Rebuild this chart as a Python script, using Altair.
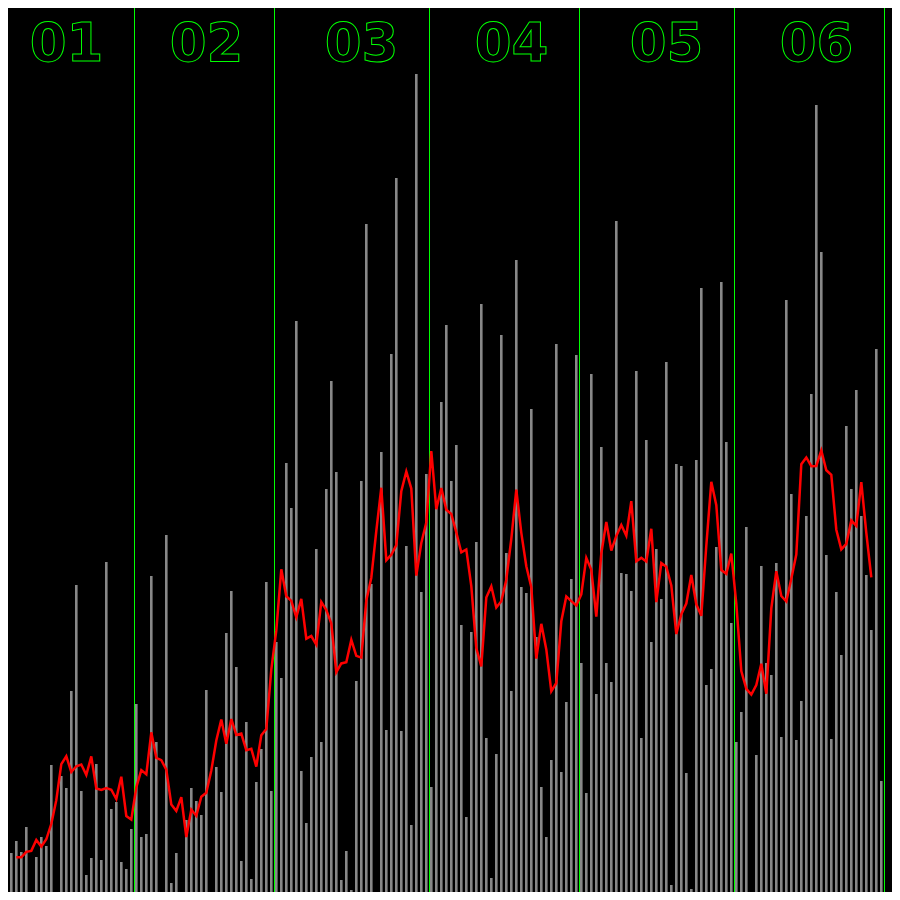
import altair as alt
import pandas as pd

# Daily values (first visible day: 5 Jan)
start = "2021-01-05"
jan = [44, 25, 47, 59, 48, 73, 4, 43, 63, 54, 135, 2, 124, 112, 209, 315, 109,
       25, 42, 136, 40, 338, 91, 98, 38, 31, 71]
feb = [196, 63, 66, 324, 158, 2, 365, 17, 47, 0, 80, 112, 99, 85, 210, 4, 133,
       108, 267, 309, 233, 39, 178, 21, 118, 151, 318, 109]
mar = [258, 222, 437, 392, 579, 129, 77, 143, 351, 158, 411, 519, 428, 20, 49,
       10, 219, 419, 676, 316, 8, 448, 170, 546, 722, 169, 354, 75, 826, 308, 426]
apr = [113, 397, 498, 575, 419, 455, 275, 83, 268, 358, 596, 162, 22, 146, 565,
       347, 209, 640, 313, 307, 491, 263, 113, 63, 140, 556, 128, 198, 321, 545]
may = [237, 107, 526, 206, 453, 237, 218, 679, 327, 326, 309, 529, 162, 460, 258,
       351, 301, 538, 15, 436, 434, 127, 11, 440, 612, 215, 231, 353, 618, 458, 277]
jun = [158, 188, 373, 3, 145, 334, 237, 225, 337, 163, 600, 406, 160, 199, 384,
       506, 795, 648, 345, 161, 308, 245, 474, 411, 510, 384, 325, 270, 551, 119]
jul = [100]  # only enters the moving average, not drawn as a bar
month_labels = ["01", "02", "03", "04", "05", "06"]

values = jan + feb + mar + apr + may + jun + jul
dates = pd.date_range(start, periods=len(values), freq="D")
t0 = pd.Timestamp(start)
df = pd.DataFrame({
    "day": list(range(len(values))),
    "value": values,
    "shown": [bool(d < pd.Timestamp("2021-07-01")) for d in dates],
})

month_starts = pd.date_range("2021-02-01", "2021-07-01", freq="MS")
rules_df = pd.DataFrame({"day": [(m - t0).days for m in month_starts]})
labels_df = pd.DataFrame({
    "label": month_labels,
    "day": [(m - pd.Timedelta(days=14) - t0).days for m in month_starts],
})

xs = alt.Scale(domain=[1.6, 178.4], nice=False, zero=False)
ys = alt.Scale(domain=[8, 892], nice=False, zero=False)

bars = (
    alt.Chart(df)
    .transform_filter(alt.datum.shown)
    .transform_calculate(x0="datum.day", x1="datum.day + 0.52")
    .mark_bar(color="#888888")
    .encode(
        x=alt.X("x0:Q", scale=xs, axis=None),
        x2="x1:Q",
        y=alt.Y("value:Q", scale=ys, axis=None),
        y2=alt.datum(0),
    )
)

rules = (
    alt.Chart(rules_df)
    .transform_calculate(xr="datum.day - 0.1")
    .mark_rule(color="#00ff00", strokeWidth=1)
    .encode(x=alt.X("xr:Q", scale=xs, axis=None))
)

line = (
    alt.Chart(df)
    .transform_window(
        window=[
            alt.WindowFieldDef(op="mean", field="value", **{"as": "ma"}),
            alt.WindowFieldDef(op="count", **{"as": "n"}),
        ],
        frame=[-3, 3],
        sort=[alt.SortField(field="day")],
    )
    .transform_filter("datum.n == 7")
    .transform_calculate(xc="datum.day + 0.26")
    .mark_line(color="#ff0000", strokeWidth=2.5)
    .encode(
        x=alt.X("xc:Q", scale=xs, axis=None),
        y=alt.Y("ma:Q", scale=ys, axis=None),
    )
)

labels = (
    alt.Chart(labels_df)
    .transform_calculate(xl="datum.day + 0.3")
    .mark_text(
        font="DejaVu Sans",
        fontWeight="bold",
        fontSize=53,
        align="center",
        baseline="alphabetic",
        stroke="#00ff00",
        strokeWidth=1,
        fillOpacity=0,
    )
    .encode(
        x=alt.X("xl:Q", scale=xs, axis=None),
        y=alt.value(53),
        text="label:N",
    )
)

chart = (
    alt.layer(bars, rules, line, labels)
    .properties(
        width=884,
        height=884,
        background="black",
        padding=0,
        autosize=alt.AutoSizeParams(type="none"),
    )
    .configure_view(strokeWidth=0)
)

chart.save("out.html", embed_options={"renderer": "svg", "actions": False})
